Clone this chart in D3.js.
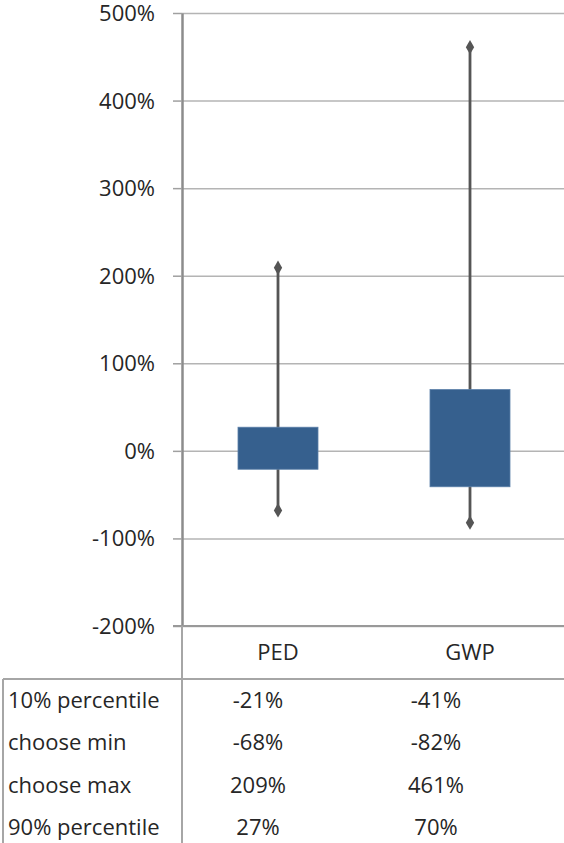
<!DOCTYPE html>
<html>
<head>
<meta charset="utf-8">
<script src="https://cdn.jsdelivr.net/npm/d3@7"></script>
<style>
  html, body { margin: 0; padding: 0; background: #fff; }
  svg { display: block; }
  text { font-family: "Open Sans", sans-serif; fill: #262626; }
</style>
</head>
<body>
<svg id="chart"></svg>
<script>
// --- Data ---
const categories = ["PED", "GWP"];
const p10 = [-0.21, -0.41];
const minVals = [-0.68, -0.82];
const maxVals = [2.09, 4.61];
const p90 = [0.27, 0.70];
const rowLabels = ["10% percentile", "choose min", "choose max", "90% percentile"];
const yTicks = [-2, -1, 0, 1, 2, 3, 4, 5];

const width = 564, height = 843;
const plot = { left: 182, top: 13, right: 566, bottom: 626 };

const svg = d3.select("#chart").attr("width", width).attr("height", height);

const fmt = v => d3.format(".0%")(v).replace("\u2212", "-");

const y = d3.scaleLinear().domain([-2, 5]).range([plot.bottom, plot.top]);
const x = d3.scaleBand().domain(categories).range([plot.left, plot.right]);

// gridlines
svg.append("g")
  .attr("transform", `translate(${plot.left},0)`)
  .call(d3.axisLeft(y).tickValues(yTicks).tickSize(-(plot.right - plot.left)).tickFormat(""))
  .call(g => g.select(".domain").remove())
  .selectAll("line").attr("stroke", "#b4b4b4").attr("stroke-width", 1.5);

// y axis
const yAxisG = svg.append("g")
  .attr("transform", `translate(${plot.left},0)`)
  .call(d3.axisLeft(y).tickValues(yTicks).tickSize(9).tickPadding(18).tickFormat(fmt).tickSizeOuter(0));
yAxisG.select(".domain").attr("stroke", "#8c8c8c").attr("stroke-width", 2.5);
yAxisG.selectAll(".tick line").attr("stroke", "#a0a0a0").attr("stroke-width", 1.5);
yAxisG.selectAll("text")
  .attr("dy", "0.34em")
  .style("font-family", "'Open Sans', sans-serif")
  .style("font-size", "22px")
  .attr("fill", "#262626");

// x baseline (bottom of plot)
svg.append("line")
  .attr("x1", plot.left - 9).attr("x2", width)
  .attr("y1", y(-2)).attr("y2", y(-2))
  .attr("stroke", "#999").attr("stroke-width", 2);

// category labels
svg.append("g").selectAll("text")
  .data(categories)
  .join("text")
  .attr("x", d => x(d) + x.bandwidth() / 2)
  .attr("y", 652)
  .attr("dy", "0.35em")
  .attr("text-anchor", "middle")
  .style("font-size", "22px")
  .text(d => d);

// boxes
const boxW = 80;
const groups = svg.append("g").selectAll("g")
  .data(categories.map((c, i) => ({ cat: c, p10: p10[i], p90: p90[i], min: minVals[i], max: maxVals[i] })))
  .join("g")
  .attr("transform", d => `translate(${x(d.cat) + x.bandwidth() / 2},0)`);

groups.append("line")
  .attr("x1", 0).attr("x2", 0)
  .attr("y1", d => y(d.min)).attr("y2", d => y(d.max))
  .attr("stroke", "#555").attr("stroke-width", 2.8);

groups.append("rect")
  .attr("x", -boxW / 2)
  .attr("width", boxW)
  .attr("y", d => y(d.p90))
  .attr("height", d => y(d.p10) - y(d.p90))
  .attr("fill", "#36608e")
  .attr("stroke", "#5a7fa8")
  .attr("stroke-width", 0.8);

const diamond = d3.symbol().type(d3.symbolDiamond).size(60);
groups.selectAll("path.marker")
  .data(d => [d.min, d.max])
  .join("path")
  .attr("class", "marker")
  .attr("d", diamond)
  .attr("transform", v => `translate(0,${y(v)})`)
  .attr("fill", "#555");

// --- data table ---
const tableTop = 679;
const rowH = 42.4;
const tableX = d3.scaleBand().domain(categories).range([169, 525]);
const rows = [p10, minVals, maxVals, p90];

svg.append("line")
  .attr("x1", 3).attr("x2", width)
  .attr("y1", tableTop).attr("y2", tableTop)
  .attr("stroke", "#a6a6a6").attr("stroke-width", 2);
svg.append("line")
  .attr("x1", 3).attr("x2", 3)
  .attr("y1", tableTop).attr("y2", height)
  .attr("stroke", "#a6a6a6").attr("stroke-width", 2);
svg.append("line")
  .attr("x1", plot.left).attr("x2", plot.left)
  .attr("y1", y(-2)).attr("y2", height)
  .attr("stroke", "#a6a6a6").attr("stroke-width", 2);

const rowG = svg.append("g").selectAll("g")
  .data(rowLabels)
  .join("g")
  .attr("transform", (d, i) => `translate(0,${tableTop + rowH * (i + 0.5)})`);

rowG.append("text")
  .attr("x", 8)
  .attr("dy", "0.35em")
  .style("font-size", "22px")
  .text(d => d);

rowG.selectAll("text.val")
  .data((d, i) => categories.map((c, j) => ({ cat: c, v: rows[i][j] })))
  .join("text")
  .attr("class", "val")
  .attr("x", d => tableX(d.cat) + tableX.bandwidth() / 2)
  .attr("dy", "0.35em")
  .attr("text-anchor", "middle")
  .style("font-size", "22px")
  .text(d => fmt(d.v));
</script>
</body>
</html>
